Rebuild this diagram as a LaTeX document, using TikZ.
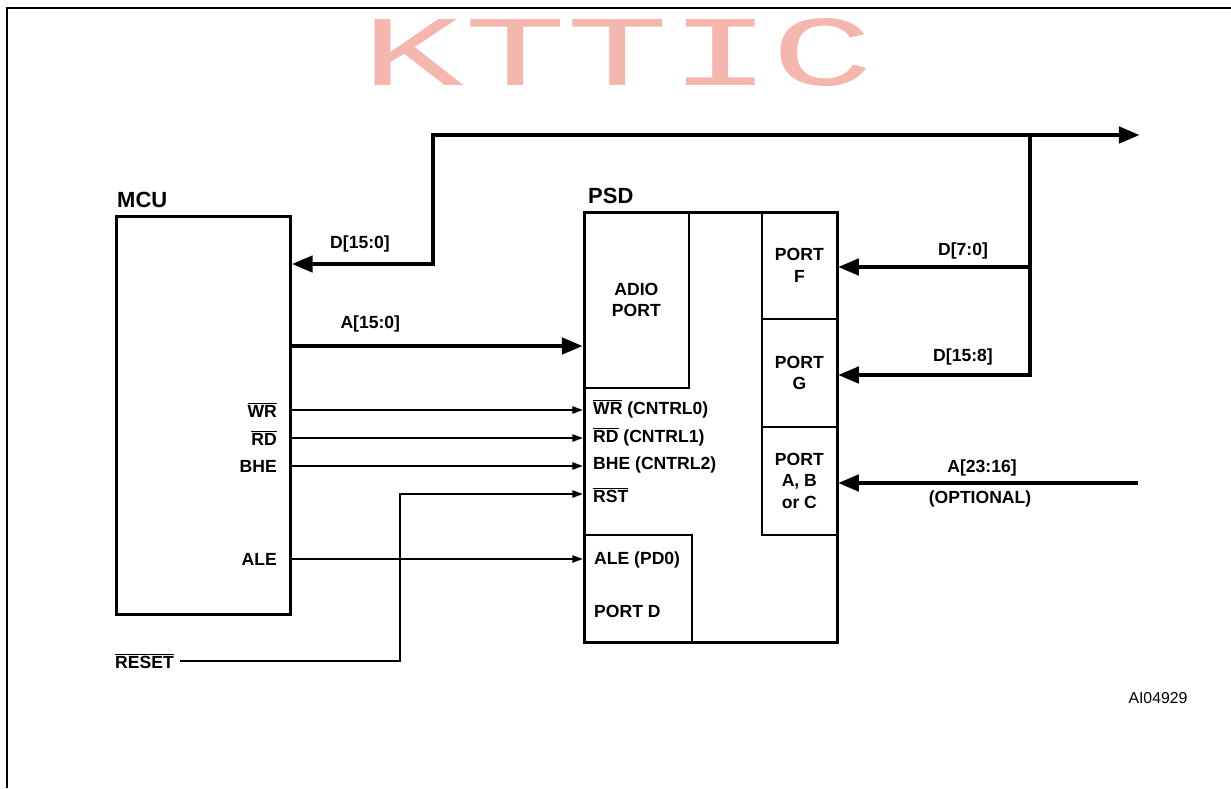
\documentclass[tikz,border=0pt]{standalone}
\usepackage{fontspec}
\setmainfont{Liberation Sans}
\newfontfamily\markfont{Liberation Mono}
\usepackage{xcolor}
\usetikzlibrary{arrows.meta}

\definecolor{markpink}{RGB}{245,182,174}
\newcommand{\ovl}[1]{$\overline{\mbox{#1}}$}

\begin{document}
\begin{tikzpicture}[x=0.02cm, y=-0.02cm,
    every node/.style={font=\bfseries\fontsize{10}{12}\selectfont},
    bus/.style={line width=2.8pt, -{Triangle[length=12pt,width=9pt]}},
    sig/.style={line width=1.1pt, -{Triangle[length=6pt,width=4pt]}},
    box/.style={draw, line width=1.5pt, anchor=north west, inner sep=0pt},
    port/.style={draw, line width=1pt, anchor=north west, inner sep=0pt, align=center}]
    \useasboundingbox (0,0) rectangle (1231,788);

    % frame and watermark
    \draw[line width=1.7pt] (7,788) -- (7,8) -- (1231,8);
    \node[text=markpink, font=\markfont\fontsize{60}{60}\selectfont,
          xscale=1.62, yscale=0.95, anchor=base, inner sep=0pt] (mark) at (618,85) {KTTIC};

    % blocks
    \node[box, minimum width=3.48cm, minimum height=7.96cm] (mcu) at (115,215) {};
    \node[box, minimum width=5.06cm, minimum height=8.6cm] (psd) at (583,211) {};
    \node[port, minimum width=2.1cm, minimum height=3.52cm] (adio) at (583,211) {ADIO\\PORT};
    \node[port, minimum width=1.5cm, minimum height=2.14cm] (portf) at (761,211) {PORT\\F};
    \node[port, minimum width=1.5cm, minimum height=2.16cm] (portg) at (761,318) {PORT\\G};
    \node[port, minimum width=1.5cm, minimum height=2.16cm] (portabc) at (761,426) {PORT\\A, B\\or C};
    \node[port, minimum width=2.16cm, minimum height=2.14cm] (portd) at (583,534) {};
    \node[anchor=base west, font=\bfseries\fontsize{12.5}{14}\selectfont] (mcutitle) at (111,207) {MCU};
    \node[anchor=base west, font=\bfseries\fontsize{12.5}{14}\selectfont] (psdtitle) at (582,203) {PSD};

    % pin names
    \node[anchor=east] (mwr) at (283,410) {\ovl{WR}};
    \node[anchor=east] (mrd) at (283,438) {\ovl{RD}};
    \node[anchor=east] (mbhe) at (283,466) {BHE};
    \node[anchor=east] (male) at (283,559) {ALE};
    \node[anchor=west] (pwr) at (587,409) {\ovl{WR} (CNTRL0)};
    \node[anchor=west] (prd) at (587,437) {\ovl{RD} (CNTRL1)};
    \node[anchor=west] (pbhe) at (587,465) {BHE (CNTRL2)};
    \node[anchor=west] (prst) at (587,495) {\ovl{RST}};
    \node[anchor=west] (pale) at (588,560) {ALE (PD0)};
    \node[anchor=west] (pportd) at (588,611) {PORT D};
    \node[anchor=west] (reset) at (109,661) {\ovl{RESET}};

    % control lines
    \foreach \y in {410,438,466,559}
        \draw[sig] (mcu.east |- 0,\y) -- (psd.west |- 0,\y);
    \coordinate (rstbend) at (400,494);
    \draw[sig] (reset.east) -| (rstbend) -- (psd.west |- rstbend);

    % buses
    \draw[bus] (mcu.east |- 0,346) -- (adio.west |- 0,346)
        node[pos=0.27, above=3pt] (alow) {A[15:0]};
    \draw[line width=2.8pt, {Triangle[length=12pt,width=9pt]}-{Triangle[length=12pt,width=9pt]}]
        (mcu.east |- 0,264) -| (433,135) -- (1140,135);
    \node (dall) at (360,244) {D[15:0]};
    \coordinate (dtap) at (1030,135);
    \draw[bus] (dtap) |- (portg.east |- 0,375);
    \draw[bus] (dtap |- 0,267) -- (portf.east |- 0,267);
    \node (dlow) at (963,251) {D[7:0]};
    \node (dhigh) at (963,357) {D[15:8]};
    \draw[bus] (1138,483) -- (portabc.east |- 0,483);
    \node (ahigh) at (982,468) {A[23:16]};
    \node (optional) at (980,499) {(OPTIONAL)};

    \node[font=\fontsize{9}{11}\selectfont] (figid) at (1158,698) {AI04929};
\end{tikzpicture}
\end{document}
